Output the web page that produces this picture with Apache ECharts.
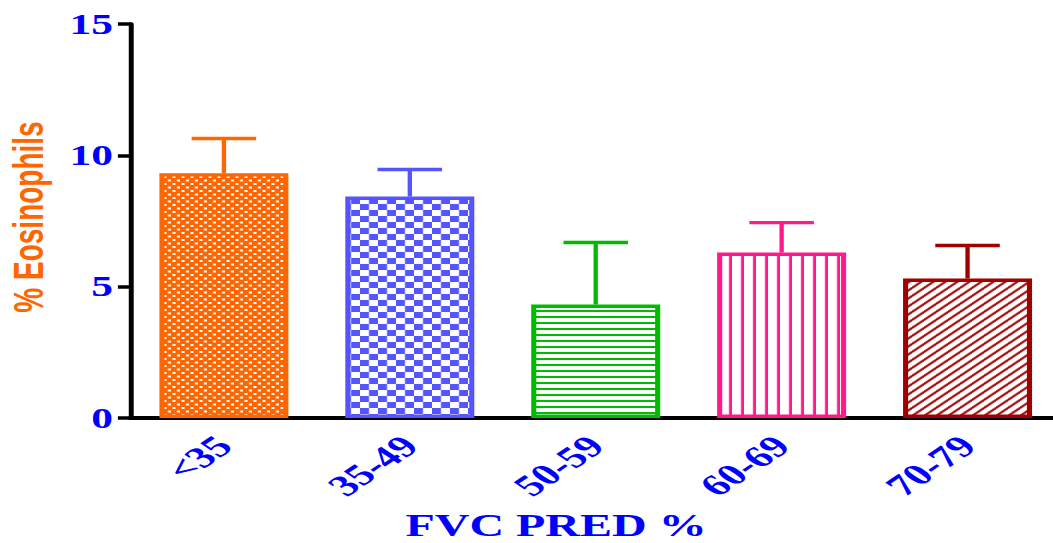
<!DOCTYPE html>
<html>
<head>
<meta charset="utf-8">
<script src="https://cdn.jsdelivr.net/npm/echarts@6/dist/echarts.min.js"></script>
<style>
html,body{margin:0;padding:0;width:1053px;height:543px;overflow:hidden;background:#fff;}
#chart{position:absolute;left:0;top:0;width:707px;height:543px;transform:scaleX(1.5);transform-origin:0 0;}
</style>
</head>
<body>
<div id="chart"></div>
<script>
// ---- data ----
var categories = ['<35', '35-49', '50-59', '60-69', '70-79'];
var meanValues = [9.32, 8.43, 4.32, 6.3, 5.31];
var errorValues = [1.32, 1.03, 2.36, 1.14, 1.26];
var yTicks = [0, 5, 10, 15];
var barColors = ['#ff6600', '#5555ff', '#00bb00', '#ff1a8c', '#a00000'];

// ---- fill patterns (style only) ----
function makePattern(kind, color) {
  var c = document.createElement('canvas');
  var ctx;
  if (kind === 'fineCheck') {
    c.width = 6; c.height = 7; ctx = c.getContext('2d');
    ctx.fillStyle = color; ctx.fillRect(0, 0, 6, 7);
    ctx.fillStyle = '#fff';
    ctx.fillRect(1, 1, 2, 2); ctx.fillRect(4, 4.5, 2, 2);
  } else if (kind === 'check') {
    c.width = 12; c.height = 12; ctx = c.getContext('2d');
    ctx.fillStyle = '#fff'; ctx.fillRect(0, 0, 12, 12);
    ctx.fillStyle = color;
    ctx.fillRect(0, 0, 6, 6); ctx.fillRect(6, 6, 6, 6);
  } else if (kind === 'hlines') {
    c.width = 4; c.height = 6; ctx = c.getContext('2d');
    ctx.fillStyle = '#fff'; ctx.fillRect(0, 0, 4, 6);
    ctx.fillStyle = color; ctx.fillRect(0, 4, 4, 2);
  } else if (kind === 'vlines') {
    c.width = 8; c.height = 4; ctx = c.getContext('2d');
    ctx.fillStyle = '#fff'; ctx.fillRect(0, 0, 8, 4);
    ctx.fillStyle = color; ctx.fillRect(6, 0, 2, 4);
  } else {
    c.width = 8; c.height = 8; ctx = c.getContext('2d');
    ctx.fillStyle = '#fff'; ctx.fillRect(0, 0, 8, 8);
    ctx.strokeStyle = color; ctx.lineWidth = 1.8;
    ctx.beginPath();
    ctx.moveTo(-2, 10); ctx.lineTo(10, -2);
    ctx.moveTo(-2, 2); ctx.lineTo(2, -2);
    ctx.moveTo(6, 10); ctx.lineTo(10, 6);
    ctx.stroke();
  }
  return { image: c, repeat: 'repeat', imageWidth: c.width, imageHeight: c.height };
}
var patternKinds = ['fineCheck', 'check', 'hlines', 'vlines', 'diag'];

var barData = meanValues.map(function (v, i) {
  return {
    value: v,
    itemStyle: {
      color: makePattern(patternKinds[i], barColors[i]),
      borderColor: barColors[i],
      borderWidth: 3.4
    }
  };
});
var errData = meanValues.map(function (v, i) { return [i, v, v + errorValues[i]]; });

var chart = echarts.init(document.getElementById('chart'), null, { renderer: 'svg' });
chart.setOption({
  animation: false,
  grid: { left: 87.3, right: 0, top: 24, bottom: 125, containLabel: false },
  xAxis: {
    type: 'category',
    data: categories,
    axisLine: { lineStyle: { color: '#000', width: 4 } },
    axisTick: { alignWithLabel: true, length: 8, lineStyle: { color: '#000', width: 5 } },
    axisLabel: {
      rotate: 45, margin: 23, color: '#0000ff',
      fontFamily: 'Liberation Serif', fontWeight: 'bold', fontSize: 30
    },
    splitLine: { show: false }
  },
  yAxis: {
    type: 'value', min: 0, max: 15, interval: 5,
    axisLine: { show: true, lineStyle: { color: '#000', width: 3.3 } },
    axisTick: { show: true, length: 8.7, lineStyle: { color: '#000', width: 3.5 } },
    axisLabel: {
      margin: 12, color: '#0000ff',
      fontFamily: 'Liberation Serif', fontWeight: 'bold', fontSize: 29,
      formatter: function (v) { return yTicks.indexOf(v) >= 0 ? String(v) : ''; }
    },
    splitLine: { show: false }
  },
  graphic: [
    {
      type: 'text', x: 19.3, y: 217, rotation: Math.PI / 2,
      style: {
        text: '% Eosinophils', fill: '#ff6600', align: 'center', verticalAlign: 'middle',
        font: 'bold 28px "Liberation Sans", Arial, sans-serif'
      }
    },
    {
      type: 'text', x: 370.7, y: 525,
      style: {
        text: 'FVC PRED %', fill: '#0000ff', align: 'center', verticalAlign: 'middle',
        font: 'bold 32px "Liberation Serif", "Times New Roman", serif'
      }
    }
  ],
  series: [
    {
      type: 'bar', data: barData, barWidth: 86, z: 2
    },
    {
      type: 'custom', z: 3,
      data: errData,
      renderItem: function (params, api) {
        var i = api.value(0);
        var base = api.coord([i, api.value(1)]);
        var top = api.coord([i, api.value(2)]);
        var half = 21.5;
        var col = barColors[params.dataIndex];
        return {
          type: 'group',
          children: [
            { type: 'line', shape: { x1: base[0], y1: base[1], x2: top[0], y2: top[1] },
              style: { stroke: col, lineWidth: 2.9 } },
            { type: 'line', shape: { x1: top[0] - half, y1: top[1], x2: top[0] + half, y2: top[1] },
              style: { stroke: col, lineWidth: 3.4 } }
          ]
        };
      }
    }
  ]
});
</script>
</body>
</html>
